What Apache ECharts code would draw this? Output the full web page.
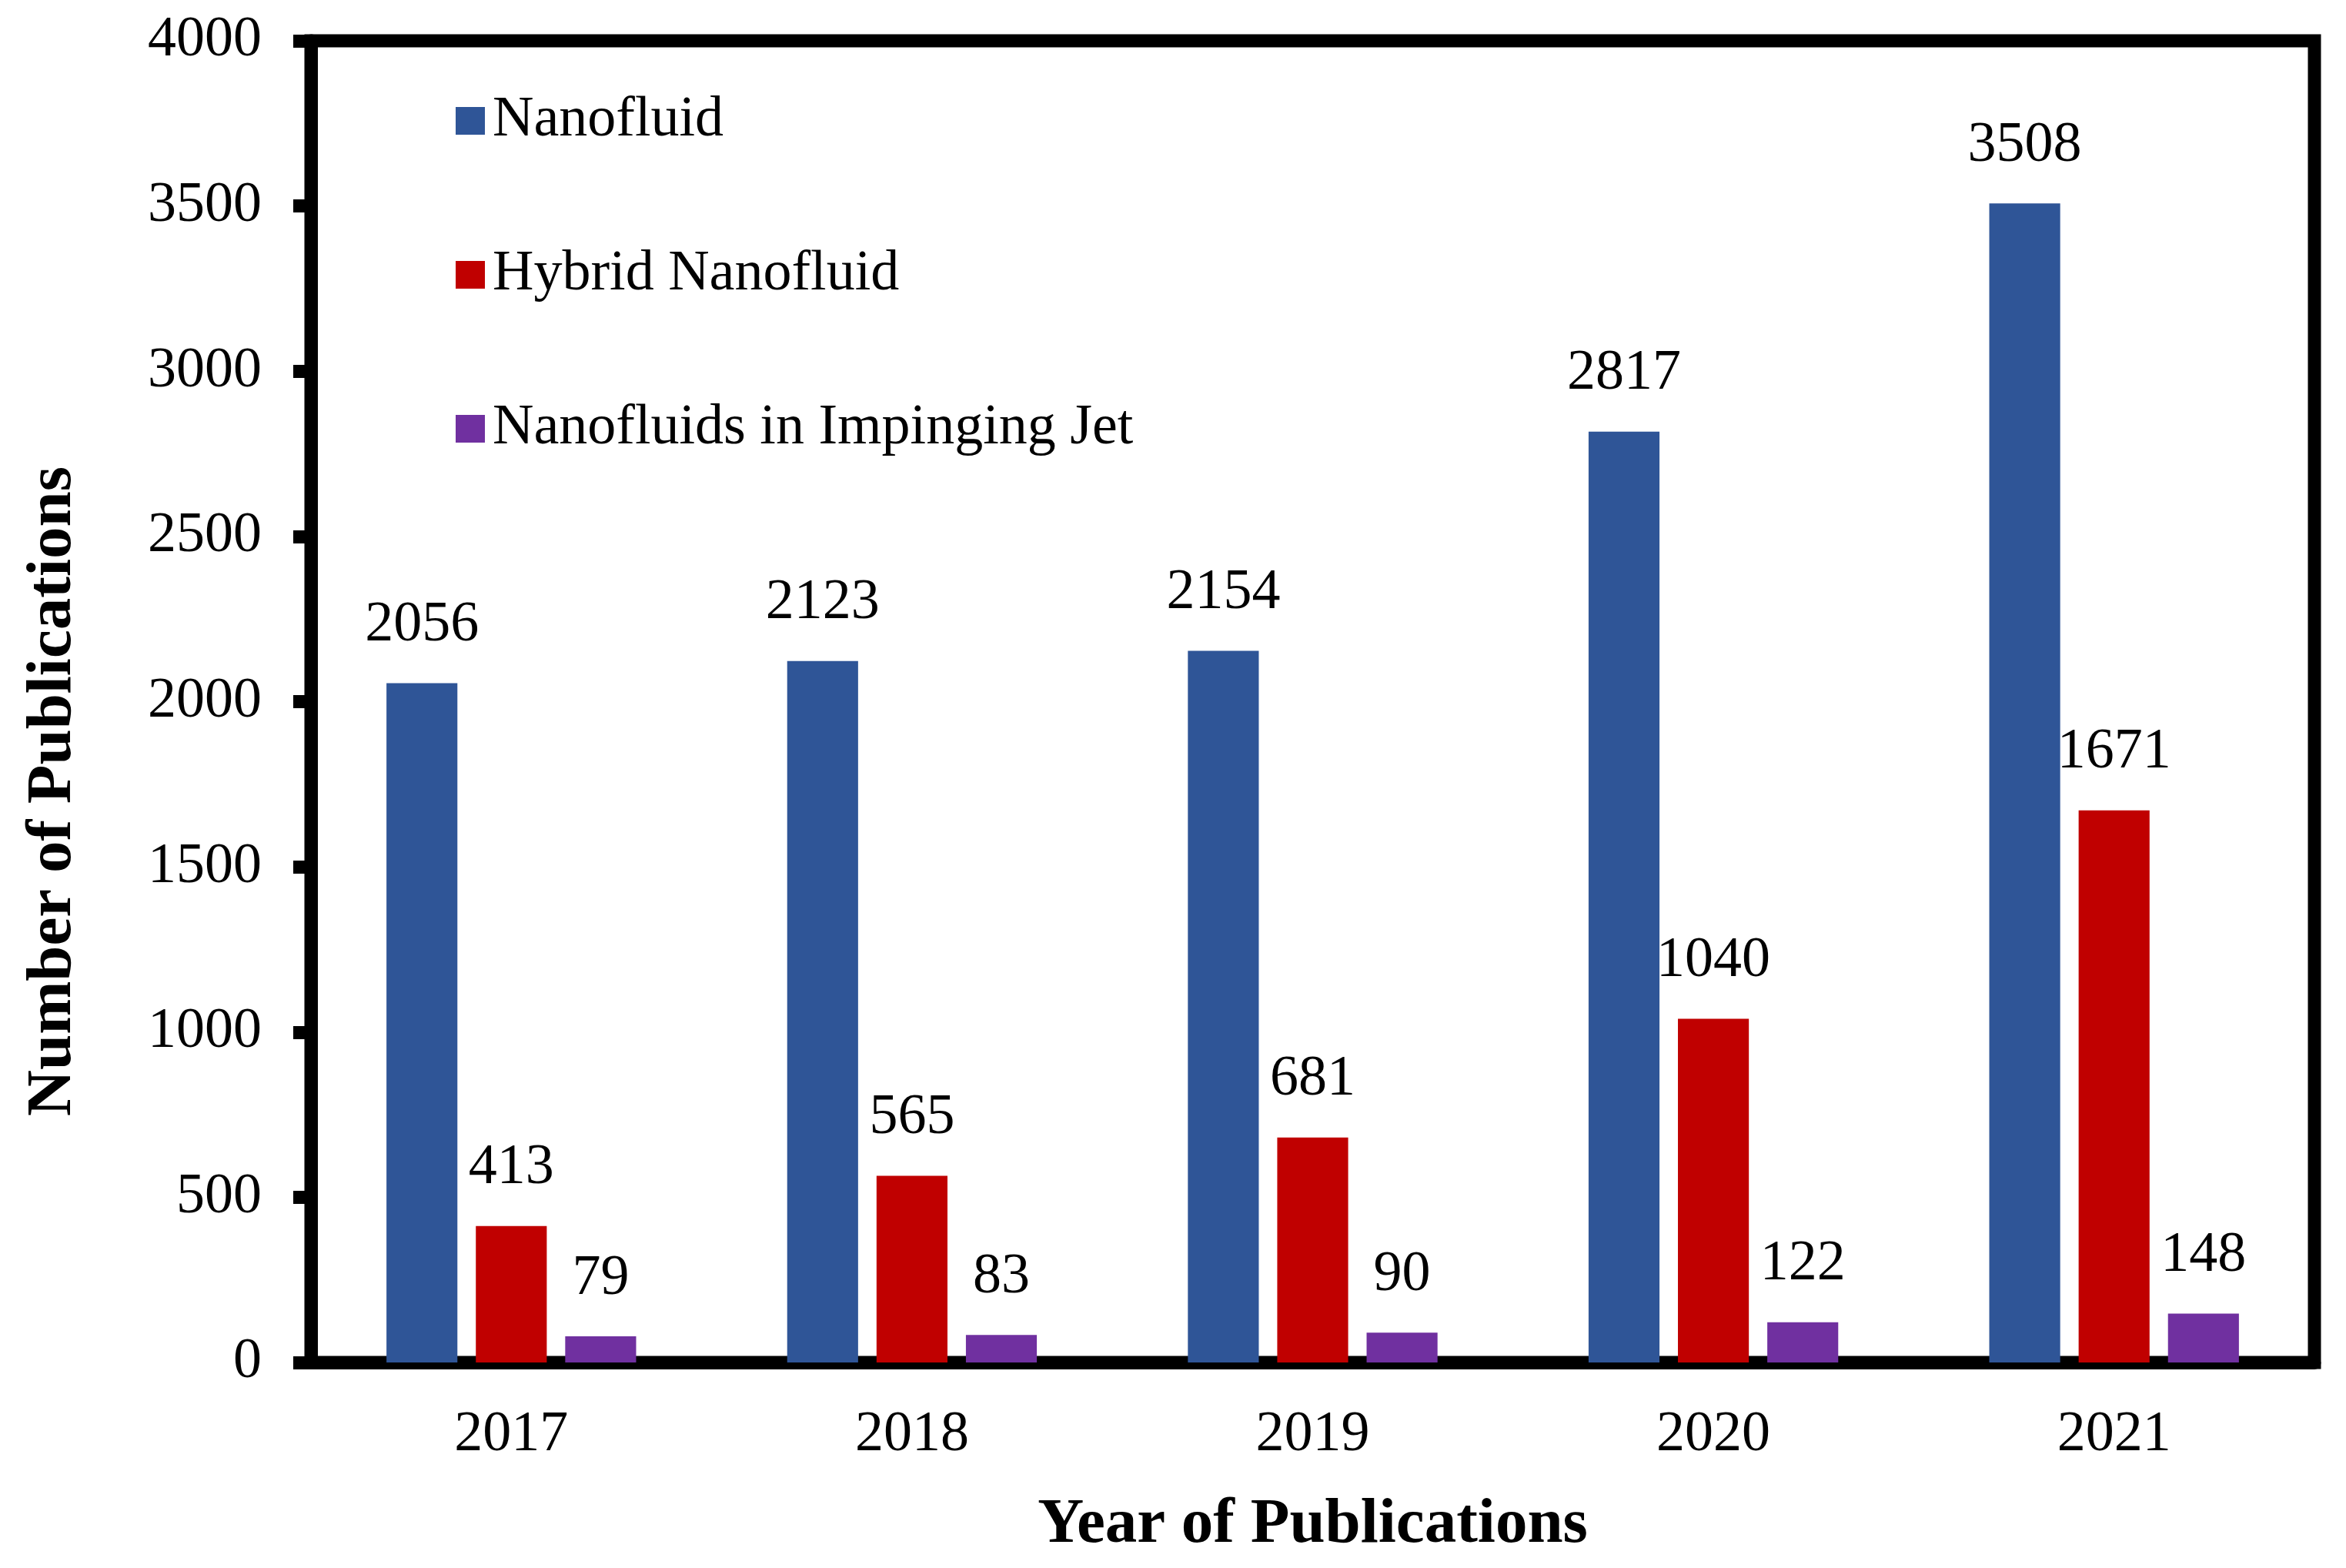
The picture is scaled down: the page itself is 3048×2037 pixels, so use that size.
<!DOCTYPE html>
<html>
<head>
<meta charset="utf-8">
<script src="https://cdn.jsdelivr.net/npm/echarts@6/dist/echarts.min.js"></script>
<style>
html,body{margin:0;padding:0;background:#fff;}
#chart{width:3048px;height:2037px;}
</style>
</head>
<body>
<div id="chart"></div>
<script>
const categories = ['2017', '2018', '2019', '2020', '2021'];
const nanofluid = [2056, 2123, 2154, 2817, 3508];
const hybridNanofluid = [413, 565, 681, 1040, 1671];
const impingingJet = [79, 83, 90, 122, 148];
const seriesNames = ['Nanofluid', 'Hybrid Nanofluid', 'Nanofluids in Impinging Jet'];
const colors = ['#2F5597', '#C00000', '#7030A0'];
const yTitle = 'Number of Publications';
const xTitle = 'Year of Publications';

const FONT = '"Liberation Serif", "Times New Roman", serif';
const chart = echarts.init(document.getElementById('chart'));

function barSeries(name, data, color) {
  return {
    name: name,
    type: 'bar',
    data: data,
    barWidth: '17.7%',
    barGap: '26%',
    itemStyle: { color: color },
    label: {
      show: true,
      position: 'top',
      distance: 38,
      color: '#000',
      fontFamily: FONT,
      fontSize: 74
    }
  };
}

chart.setOption({
  backgroundColor: '#fff',
  animation: false,
  grid: {
    left: 404, right: 41, top: 53, bottom: 267,
    show: true, borderColor: '#000', borderWidth: 17, backgroundColor: 'transparent'
  },
  legend: {
    orient: 'vertical',
    left: 587,
    top: 112,
    itemWidth: 38,
    itemHeight: 36,
    itemGap: 120,
    icon: 'rect',
    textStyle: { fontFamily: FONT, fontSize: 74, color: '#000', lineHeight: 80, padding: [0, 0, 0, 5] },
    data: seriesNames
  },
  graphic: [{
    type: 'text',
    x: 70,
    y: 1028,
    rotation: Math.PI / 2,
    style: {
      text: yTitle,
      fontFamily: FONT,
      fontSize: 83,
      fontWeight: 'bold',
      fill: '#000',
      align: 'center',
      verticalAlign: 'middle'
    }
  }],
  xAxis: {
    type: 'category',
    data: categories,
    axisLine: { show: true, lineStyle: { color: '#000', width: 17 } },
    axisTick: { show: false },
    axisLabel: { color: '#000', fontFamily: FONT, fontSize: 74, margin: 58 },
    name: xTitle,
    nameLocation: 'middle',
    nameGap: 170,
    nameTextStyle: { color: '#000', fontFamily: FONT, fontSize: 83, fontWeight: 'bold' }
  },
  yAxis: {
    type: 'value',
    min: 0, max: 4000, interval: 500,
    splitLine: { show: false },
    axisLine: { show: true, lineStyle: { color: '#000', width: 17 } },
    axisTick: { show: true, inside: false, length: 23, lineStyle: { color: '#000', width: 17 } },
    axisLabel: { color: '#000', fontFamily: FONT, fontSize: 74, margin: 64, formatter: function (v) { return String(v); } }
  },
  series: [
    barSeries(seriesNames[0], nanofluid, colors[0]),
    barSeries(seriesNames[1], hybridNanofluid, colors[1]),
    barSeries(seriesNames[2], impingingJet, colors[2])
  ]
});
</script>
</body>
</html>
